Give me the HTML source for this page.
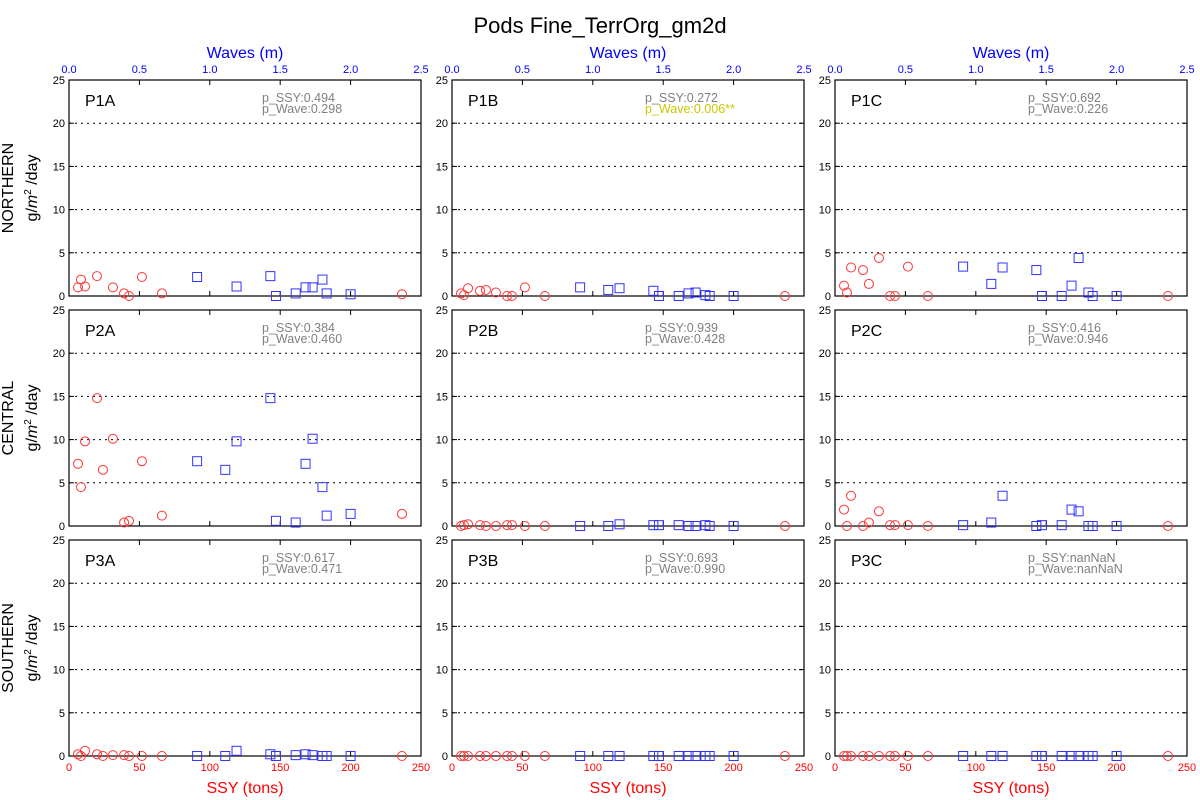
<!DOCTYPE html>
<html><head><meta charset="utf-8"><style>
body{margin:0;background:#fff;}
svg{display:block;font-family:"Liberation Sans",sans-serif;}
</style></head><body>
<svg id="c" width="1200" height="800"></svg>
<script>
const ssy=[6.4,8.5,11.4,19.9,24.1,31.2,39.1,42.6,51.8,66,236.5];
const waves=[1.68,1.80,1.19,1.43,1.11,1.73,1.61,1.47,0.91,1.83,2.00];
const panelNames=["P1A","P1B","P1C","P2A","P2B","P2C","P3A","P3B","P3C"];
const pSSY=["0.494","0.272","0.692","0.384","0.939","0.416","0.617","0.693","nanNaN"];
const pWave=["0.298","0.006**","0.226","0.460","0.428","0.946","0.471","0.990","nanNaN"];
const vals=[
[1.0,1.9,1.1,2.3,null,1.0,0.3,0,2.2,0.3,0.2],
[0.3,0.1,0.9,0.6,0.7,0.4,0,0,1.0,0,0],
[1.2,0.4,3.3,3.0,1.4,4.4,0,0,3.4,0,0],
[7.2,4.5,9.8,14.8,6.5,10.1,0.4,0.6,7.5,1.2,1.4],
[0,0.1,0.2,0.1,0,0,0.1,0.1,0,0,0],
[1.9,0,3.5,0,0.4,1.7,0.1,0.1,0.1,0,0],
[0.2,0,0.6,0.2,0,0.1,0.1,0,0,0,0],
[0,0,0,0,0,0,0,0,0,0,0],
[0,0,0,0,0,0,0,0,0,0,0]];
const yTicks=[0,5,10,15,20,25];
const xTicks=[0,50,100,150,200,250];
const wTicks=["0.0","0.5","1.0","1.5","2.0","2.5"];
const rowNames=["NORTHERN","CENTRAL","SOUTHERN"];
const NS="http://www.w3.org/2000/svg";
const svg=document.getElementById('c');
function el(t,a,p){const e=document.createElementNS(NS,t);for(const k in a)e.setAttribute(k,a[k]);(p||svg).appendChild(e);return e;}
function txt(s,a,p){const e=el('text',a,p);e.textContent=s;return e;}
const colX=[69,452,835],rowY=[80,310,540],W=352,H=216;
const t=txt("Pods Fine_TerrOrg_gm2d",{x:600,y:33,'font-size':22,'text-anchor':'middle'});

for(let i=0;i<9;i++){
 const r=Math.floor(i/3),c=i%3,x0=colX[c],y0=rowY[r];
 const g=el('g',{});
 
 
 const sx=v=>x0+v/250*W, wx=v=>x0+v/2.5*W, sy=v=>y0+H-v/25*H;
 for(const v of yTicks){
  const y=sy(v);
  if(v>0&&v<25) el('line',{x1:x0,x2:x0+W,y1:y,y2:y,stroke:'#000','stroke-dasharray':'2,4','stroke-width':1},g);
  el('line',{x1:x0,x2:x0+5,y1:y,y2:y,stroke:'#000'},g);
  el('line',{x1:x0+W-5,x2:x0+W,y1:y,y2:y,stroke:'#000'},g);
  const yl=txt(v,{x:x0-4,y:y+4,'font-size':11,'text-anchor':'end'},g);
  
 }
 xTicks.forEach((v,k)=>{
  const x=sx(v);
  el('line',{x1:x,x2:x,y1:y0+H,y2:y0+H-5,stroke:'#000'},g);
  el('line',{x1:x,x2:x,y1:y0,y2:y0+5,stroke:'#000'},g);
  if(r==2){const l=txt(v,{x:x,y:y0+H+15,'font-size':11,fill:'#f00','text-anchor':'middle'},g);
   }
  if(r==0){const l=txt(wTicks[k],{x:x,y:y0-7,'font-size':11,fill:'#00f','text-anchor':'middle'},g);
   }
 });
 el('rect',{x:x0,y:y0,width:W,height:H,fill:'none',stroke:'#000','stroke-width':1.2},g);
 const pl=txt(panelNames[i],{x:x0+16,y:y0+26,'font-size':16},g);
 
 const s1=txt("p_SSY:"+pSSY[i],{x:x0+193,y:y0+22,'font-size':12.5,fill:'#808080'},g);
 
 const s2=txt("p_Wave:"+pWave[i],{x:x0+193,y:y0+33,'font-size':12.5,fill:pWave[i].includes('*')?'#c8c800':'#808080'},g);
 
 vals[i].forEach((v,k)=>{
  if(v===null)return;
  const cc=el('circle',{cx:sx(ssy[k]),cy:sy(v),r:4.5,fill:'none',stroke:'#f33','stroke-width':1},g);
  
  const sq=el('rect',{x:wx(waves[k])-4.5,y:sy(v)-4.5,width:9,height:9,fill:'none',stroke:'#33f','stroke-width':1},g);
  
 });
 if(r==0){const a=txt("Waves (m)",{x:x0+W/2,y:58,'font-size':16,fill:'#00f','text-anchor':'middle'});
  }
 if(r==2){const a=txt("SSY (tons)",{x:x0+W/2,y:793,'font-size':16,fill:'#f00','text-anchor':'middle'});
  }
}
rowNames.forEach((n,r)=>{
 const cy=rowY[r]+H/2;
 const a=txt(n,{x:0,y:0,'font-size':16,'text-anchor':'middle',transform:`translate(13,${cy}) rotate(-90)`});
 
 const b=el('text',{x:0,y:0,'font-size':16,'text-anchor':'middle',transform:`translate(37,${cy}) rotate(-90)`});
 b.innerHTML='g/<tspan font-style="italic">m</tspan><tspan font-size="10" dy="-6">2</tspan><tspan dy="6"> /day</tspan>';
 
});
</script>
</body></html>
